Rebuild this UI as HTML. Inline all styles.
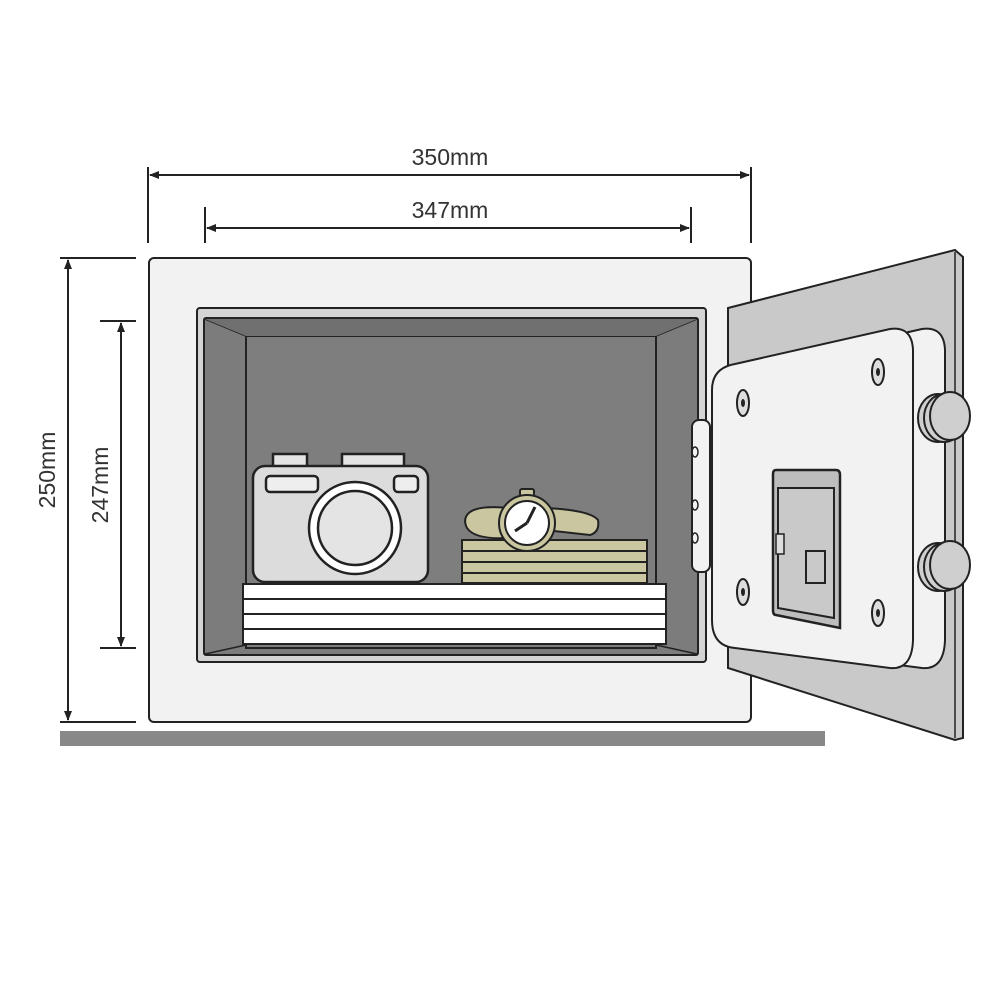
<!DOCTYPE html>
<html><head><meta charset="utf-8"><style>html,body{margin:0;padding:0;background:#fff}svg{display:block}</style></head>
<body>
<svg width="1000" height="1000" viewBox="0 0 1000 1000" xmlns="http://www.w3.org/2000/svg">
<defs>
<marker id="a" markerWidth="10" markerHeight="8" refX="9" refY="4" orient="auto-start-reverse" markerUnits="userSpaceOnUse">
<path d="M0,0 L10,4 L0,8 z" fill="#222"/></marker>
</defs>
<g stroke="#222" stroke-width="2" fill="none">
<line x1="148" y1="167" x2="148" y2="243"/>
<line x1="751" y1="167" x2="751" y2="243"/>
<line x1="150" y1="175" x2="749" y2="175" marker-start="url(#a)" marker-end="url(#a)"/>
<line x1="205" y1="207" x2="205" y2="243"/>
<line x1="691" y1="207" x2="691" y2="243"/>
<line x1="207" y1="228" x2="689" y2="228" marker-start="url(#a)" marker-end="url(#a)"/>
<line x1="60" y1="258" x2="136" y2="258"/>
<line x1="60" y1="722" x2="136" y2="722"/>
<line x1="68" y1="260" x2="68" y2="720" marker-start="url(#a)" marker-end="url(#a)"/>
<line x1="100" y1="321" x2="136" y2="321"/>
<line x1="100" y1="648" x2="136" y2="648"/>
<line x1="121" y1="323" x2="121" y2="646" marker-start="url(#a)" marker-end="url(#a)"/>
</g>
<g font-family="Liberation Sans, sans-serif" font-size="23" fill="#333" text-anchor="middle">
<text x="450" y="165">350mm</text>
<text x="450" y="218">347mm</text>
<text transform="translate(55,470) rotate(-90)">250mm</text>
<text transform="translate(108,485) rotate(-90)">247mm</text>
</g>
<rect x="60" y="731" width="765" height="15" fill="#888"/>
<rect x="149" y="258" width="602" height="464" rx="5" fill="#f2f2f2" stroke="#222" stroke-width="2"/>
<rect x="197" y="308" width="509" height="354" rx="3" fill="#d4d4d4" stroke="#222" stroke-width="2"/>
<rect x="204" y="318" width="494" height="337" rx="2" fill="#7c7c7c" stroke="#222" stroke-width="2"/>
<rect x="246" y="336" width="410" height="312" fill="#7e7e7e" stroke="#222" stroke-width="2"/>
<g stroke="#222" stroke-width="1.5">
<line x1="205" y1="319" x2="246" y2="336"/><line x1="697" y1="319" x2="656" y2="336"/>
<line x1="205" y1="654" x2="246" y2="645"/><line x1="697" y1="654" x2="656" y2="645"/>
</g>
<polygon points="205,319 697,319 656,336 246,336" fill="#707070"/>
<g fill="#fff" stroke="#222" stroke-width="2">
<rect x="243" y="584" width="423" height="15"/><rect x="243" y="599" width="423" height="15"/>
<rect x="243" y="614" width="423" height="15"/><rect x="243" y="629" width="423" height="15"/>
</g>
<g stroke="#222" stroke-width="2.5">
<rect x="273" y="454" width="34" height="14" fill="#e4e4e4"/>
<rect x="342" y="454" width="62" height="14" fill="#e4e4e4"/>
<rect x="253" y="466" width="175" height="116" rx="12" fill="#dcdcdc"/>
<rect x="266" y="476" width="52" height="16" rx="4" fill="#eee"/>
<rect x="394" y="476" width="24" height="16" rx="4" fill="#eee"/>
<circle cx="355" cy="528" r="46" fill="#fff"/>
<circle cx="355" cy="528" r="37" fill="#e4e4e4"/>
</g>
<g fill="#c9c6a0" stroke="#222" stroke-width="2">
<rect x="462" y="540" width="185" height="11"/><rect x="462" y="551" width="185" height="11"/>
<rect x="462" y="562" width="185" height="11"/><rect x="462" y="573" width="185" height="10"/>
</g>
<g stroke="#222" stroke-width="2">
<path d="M470,512 Q480,505 510,508 L545,508 Q590,510 598,520 Q600,532 590,535 L545,530 L510,538 Q475,540 467,528 Q462,518 470,512 z" fill="#c9c6a0"/>
<rect x="520" y="489" width="14" height="7" rx="2" fill="#c9c6a0"/>
<circle cx="527" cy="523" r="28" fill="#c9c6a0"/>
<circle cx="527" cy="523" r="22" fill="#fff"/>
<path d="M527,523 L535,507 M527,523 L515,531" stroke-width="3"/>
</g>
<polygon points="728,308 955,250 963,257 963,738 955,740 728,668" fill="#c9c9c9" stroke="#222" stroke-width="2"/>
<line x1="955" y1="252" x2="955" y2="738" stroke="#222" stroke-width="1.5"/>
<rect x="692" y="420" width="18" height="152" rx="7" fill="#f2f2f2" stroke="#222" stroke-width="2"/>
<g fill="none" stroke="#222" stroke-width="1.5">
<ellipse cx="695" cy="452" rx="3" ry="5"/><ellipse cx="695" cy="505" rx="3" ry="5"/><ellipse cx="695" cy="538" rx="3" ry="5"/>
</g>
<path transform="translate(32,0)" d="M735,364 L890,329 Q912,326 913,350 L913,640 Q912,670 890,668 L735,648 Q712,646 712,620 L712,390 Q712,368 735,364 Z" fill="#f2f2f2" stroke="#222" stroke-width="2"/>
<path d="M735,364 L890,329 Q912,326 913,350 L913,640 Q912,670 890,668 L735,648 Q712,646 712,620 L712,390 Q712,368 735,364 Z" fill="#f2f2f2" stroke="#222" stroke-width="2"/>
<g stroke="#222" stroke-width="2" fill="#cfcfcf">
<ellipse cx="938" cy="418" rx="20" ry="24"/><ellipse cx="944" cy="418" rx="20" ry="24"/><ellipse cx="950" cy="416" rx="20" ry="24"/>
<ellipse cx="938" cy="567" rx="20" ry="24"/><ellipse cx="944" cy="567" rx="20" ry="24"/><ellipse cx="950" cy="565" rx="20" ry="24"/>
</g>
<g stroke="#222" stroke-width="2" fill="#ddd">
<ellipse cx="743" cy="403" rx="6" ry="13"/><ellipse cx="878" cy="372" rx="6" ry="13"/>
<ellipse cx="743" cy="592" rx="6" ry="13"/><ellipse cx="878" cy="613" rx="6" ry="13"/>
</g>
<g fill="#222"><ellipse cx="743" cy="403" rx="2" ry="4"/><ellipse cx="878" cy="372" rx="2" ry="4"/><ellipse cx="743" cy="592" rx="2" ry="4"/><ellipse cx="878" cy="613" rx="2" ry="4"/></g>
<path d="M776,470 L836,470 Q840,470 840,475 L840,628 L776,615 Q773,615 773,610 L773,474 Q773,470 776,470 Z" fill="#bdbdbd" stroke="#222" stroke-width="2.5"/>
<path d="M778,488 L834,488 L834,618 L778,608 Z" fill="#c9c9c9" stroke="#222" stroke-width="2"/>
<rect x="776" y="534" width="8" height="20" fill="#ddd" stroke="#222" stroke-width="1.5"/>
<rect x="806" y="551" width="19" height="32" fill="#c9c9c9" stroke="#222" stroke-width="2"/>
</svg>
</body></html>
